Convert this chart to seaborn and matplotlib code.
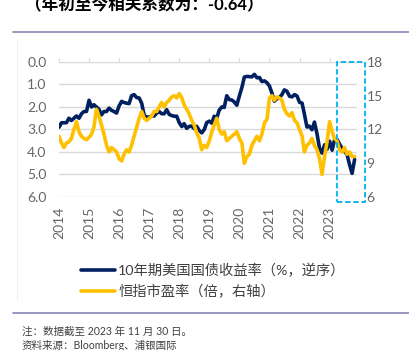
import pandas as pd
import matplotlib.pyplot as plt
import matplotlib.dates as mdates
from matplotlib.lines import Line2D
from matplotlib.patches import Rectangle
import seaborn as sns

# monthly values, Jan 2014 - Nov 2023
ust10y = [
    2.9, 2.7, 2.7, 2.7, 2.5, 2.6, 2.5, 2.4, 2.5, 2.3, 2.2, 2.2,
    1.7, 2.0, 1.9, 2.0, 2.1, 2.35, 2.2, 2.2, 2.05, 2.15, 2.2, 2.27,
    1.95, 1.75, 1.8, 1.83, 1.85, 1.5, 1.45, 1.58, 1.6, 1.83, 2.37, 2.45,
    2.45, 2.4, 2.4, 2.28, 2.2, 2.3, 2.3, 2.12, 2.33, 2.38, 2.41, 2.41,
    2.7, 2.87, 2.74, 2.95, 2.86, 2.85, 2.96, 2.86, 3.05, 3.15, 3.0, 2.69,
    2.63, 2.72, 2.41, 2.5, 2.14, 2.0, 2.02, 1.5, 1.67, 1.69, 1.78, 1.92,
    1.51, 1.13, 0.67, 0.64, 0.65, 0.66, 0.55, 0.7, 0.69, 0.87, 0.84, 0.92,
    1.07, 1.4, 1.74, 1.63, 1.58, 1.45, 1.24, 1.3, 1.52, 1.55, 1.45, 1.51,
    1.79, 1.83, 2.32, 2.89, 2.85, 3.01, 2.67, 3.19, 3.83, 4.05, 3.68, 3.88,
    3.52, 3.92, 3.48, 3.44, 3.64, 3.84, 3.97, 4.11, 4.57, 4.95, 4.33,
]
hsi_pe = [
    11.4, 10.8, 10.4, 10.8, 10.9, 11.2, 12.0, 12.7, 11.8, 11.4, 11.2, 11.1,
    11.3, 11.6, 12.2, 13.8, 13.2, 12.4, 11.6, 10.6, 10.0, 10.4, 10.2, 10.0,
    9.4, 9.2, 9.8, 10.2, 10.0, 10.6, 11.4, 12.2, 13.0, 13.6, 13.0, 12.8,
    13.0, 13.2, 13.6, 13.6, 14.0, 14.4, 14.0, 14.4, 14.6, 14.9, 15.0, 14.8,
    15.2, 14.8, 14.2, 13.8, 13.4, 12.8, 12.4, 11.7, 11.2, 10.2, 10.6, 10.4,
    11.0, 11.8, 12.4, 13.0, 12.0, 11.6, 11.8, 11.0, 11.2, 11.4, 11.6, 11.8,
    11.2, 10.8, 9.0, 9.6, 9.8, 10.6, 11.0, 11.4, 11.0, 11.6, 12.6, 12.9,
    14.8, 15.0, 14.6, 14.9, 14.8, 14.6, 13.8, 13.4, 13.2, 13.5, 12.8, 12.6,
    12.0, 11.4, 10.0, 10.6, 10.8, 11.2, 10.6, 10.2, 9.4, 8.0, 9.6, 10.9,
    12.7, 11.8, 11.2, 11.0, 10.2, 10.0, 10.4, 9.8, 10.0, 9.6, 9.6,
]
dates = pd.date_range('2014-01-01', periods=len(ust10y), freq='MS')
years = list(range(2014, 2024))

df = pd.DataFrame({'date': dates, 'ust': ust10y, 'pe': hsi_pe})

sns.set_style('white')
plt.rcParams['font.family'] = ['Lato', 'Noto Sans CJK SC', 'DejaVu Sans']

navy = '#002060'
gold = '#ffc000'
grey = '#666666'

fig = plt.figure(figsize=(4.09, 3.5), dpi=100)
ax = fig.add_axes([59/409, 1 - 197/350, 298/409, 135/350])
ax2 = ax.twinx()

sns.lineplot(data=df, x='date', y='ust', ax=ax, color=navy, lw=2.6, legend=False)
sns.lineplot(data=df, x='date', y='pe', ax=ax2, color=gold, lw=2.6, legend=False)

ax.set_ylim(6, 0)
ax.set_yticks(range(0, 7))
ax.set_yticklabels([f'{v:.1f}' for v in range(0, 7)])
ax2.set_ylim(6, 18)
ax2.set_yticks([6, 9, 12, 15, 18])
ax.set_xlim(pd.Timestamp('2014-01-01'), pd.Timestamp('2023-11-30'))
ax.set_xticks([pd.Timestamp(f'{y}-01-01') for y in years])
ax.xaxis.set_major_formatter(mdates.DateFormatter('%Y'))

ax.grid(axis='y', color='#d9d9d9', lw=1)
ax.set_axisbelow(True)
for a in (ax, ax2):
    for s in a.spines.values():
        s.set_visible(False)
    a.set_xlabel('')
    a.set_ylabel('')
ax.tick_params(axis='y', length=0, labelsize=10, labelcolor=grey, pad=9)
ax2.tick_params(axis='y', length=0, labelsize=10, labelcolor=grey, pad=7)
ax.tick_params(axis='x', bottom=False, top=True, labelbottom=True, length=3,
               color='#d9d9d9', labelsize=10, labelcolor=grey, rotation=90, pad=4)

# dashed highlight box
box = Rectangle((337/409, 1 - 202/350), 28/409, 140/350, transform=fig.transFigure,
                fill=False, ls=(0, (3, 1.5)), lw=1.3, ec='#00b0f0', zorder=10)
fig.patches.append(box)

# title and frame lines
fig.text(25/409, 1 - 5/350, '（年初至今相关系数为：-0.64）', fontsize=12,
         fontweight='bold', va='center', ha='left', color='black')
fig.add_artist(Line2D([13/409, 1], [1 - 32/350] * 2, color='#8585b5', lw=1.2))
fig.add_artist(Line2D([13/409, 1], [1 - 313/350] * 2, color='#8585b5', lw=1.2))
fig.add_artist(Line2D([17/409] * 2, [1 - 300/350, 1 - 40/350], color='#efefef', lw=0.8))

handles = [Line2D([], [], color=navy, lw=2.6), Line2D([], [], color=gold, lw=2.6)]
fig.legend(handles, ['10年期美国国债收益率（%，逆序）', '恒指市盈率（倍，右轴）'],
           loc='upper left', bbox_to_anchor=(68/409, 1 - 250/350), frameon=False,
           fontsize=10.3, handlelength=2.4, handletextpad=0.2, labelspacing=0.45,
           labelcolor='#404040')

fig.text(22/409, 1 - 331/350, '注：数据截至 2023 年 11 月 30 日。', fontsize=7.6,
         va='center', ha='left', color='#404040')
fig.text(22/409, 1 - 345/350, '资料来源：Bloomberg、浦银国际', fontsize=7.6,
         va='center', ha='left', color='#404040')

fig.savefig('out.png', dpi=100)
